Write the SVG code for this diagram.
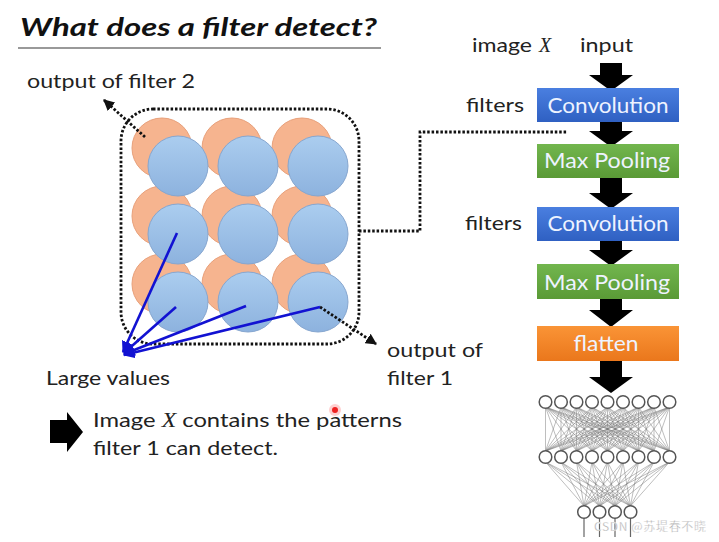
<svg xmlns="http://www.w3.org/2000/svg" width="719" height="542" viewBox="0 0 719 542">
<style>
.t{font-family:Lato,"Open Sans","Liberation Sans",sans-serif;fill:#222;font-size:20px}
.bx{font-family:Lato,"Open Sans","Liberation Sans",sans-serif;fill:#eef3ff;font-size:21px;text-anchor:middle}
.mx{font-family:"Liberation Serif",serif;font-style:italic}
.dot{fill:none;stroke:#111;stroke-width:2.8;stroke-dasharray:2.5 1.9}
.blk{fill:#000}
.oc{fill:#f6b48f;stroke:#e8a07a;stroke-width:1}
.bc{fill:url(#gb);stroke:#86a6cf;stroke-width:1}
.bl{stroke:#1212d2;stroke-width:2.6;fill:none;marker-end:url(#mb)}
.nn{fill:#fff;stroke:#555;stroke-width:1.5}
.ed{fill:none;stroke:#777;stroke-width:0.6;opacity:0.8}
</style>
<defs>
<linearGradient id="gb" x1="0" y1="0" x2="0" y2="1"><stop offset="0" stop-color="#abcdef"/><stop offset="1" stop-color="#8db2de"/></linearGradient>
<linearGradient id="gBlue" x1="0" y1="0" x2="0" y2="1"><stop offset="0" stop-color="#4a7fe0"/><stop offset="1" stop-color="#2f60c2"/></linearGradient>
<linearGradient id="gGreen" x1="0" y1="0" x2="0" y2="1"><stop offset="0" stop-color="#72b64e"/><stop offset="1" stop-color="#5a9a36"/></linearGradient>
<linearGradient id="gOrange" x1="0" y1="0" x2="0" y2="1"><stop offset="0" stop-color="#fa9436"/><stop offset="1" stop-color="#ea771c"/></linearGradient>
<marker id="mk" viewBox="0 0 10 10" refX="9" refY="5" markerWidth="4" markerHeight="4" orient="auto" markerUnits="strokeWidth"><path d="M0 0L10 5L0 10Z" fill="#111"/></marker>
<marker id="mb" viewBox="0 0 10 10" refX="9" refY="5" markerWidth="4.5" markerHeight="4.5" orient="auto" markerUnits="strokeWidth"><path d="M0 0L10 5L0 10Z" fill="#1212d2"/></marker>
</defs>
<rect width="719" height="542" fill="#fff"/>

<g id="title">
<text x="20" y="36" font-family="Lato,'Open Sans','Liberation Sans',sans-serif" font-weight="bold" font-style="italic" font-size="25" fill="#111" textLength="357" lengthAdjust="spacingAndGlyphs">What does a filter detect?</text>
<line x1="18" y1="48" x2="381" y2="48" stroke="#999" stroke-width="2"/>
</g>

<g id="feature-maps">
<circle class="oc" cx="162" cy="148" r="30"/><circle class="oc" cx="232" cy="148" r="30"/><circle class="oc" cx="302" cy="148" r="30"/>
<circle class="oc" cx="162" cy="216" r="30"/><circle class="oc" cx="232" cy="216" r="30"/><circle class="oc" cx="302" cy="216" r="30"/>
<circle class="oc" cx="162" cy="284" r="30"/><circle class="oc" cx="232" cy="284" r="30"/><circle class="oc" cx="302" cy="284" r="30"/>
<circle class="bc" cx="178" cy="166" r="30"/><circle class="bc" cx="248" cy="166" r="30"/><circle class="bc" cx="318" cy="166" r="30"/>
<circle class="bc" cx="178" cy="234" r="30"/><circle class="bc" cx="248" cy="234" r="30"/><circle class="bc" cx="318" cy="234" r="30"/>
<circle class="bc" cx="178" cy="302" r="30"/><circle class="bc" cx="248" cy="302" r="30"/><circle class="bc" cx="318" cy="302" r="30"/>
<rect class="dot" x="121" y="109" width="238" height="235" rx="32"/>
</g>

<g id="labels">
<text class="t" x="27" y="88" textLength="168" lengthAdjust="spacingAndGlyphs">output of filter 2</text>
<text class="t" x="46" y="385" textLength="124" lengthAdjust="spacingAndGlyphs">Large values</text>
<text class="t" x="387" y="357" textLength="96" lengthAdjust="spacingAndGlyphs">output of</text>
<text class="t" x="387" y="385" textLength="66" lengthAdjust="spacingAndGlyphs">filter 1</text>
</g>

<g id="conclusion">
<path class="blk" d="M50 420H67V412L83 432L67 452V443H50Z"/>
<text class="t" x="93" y="427" font-size="22" textLength="309" lengthAdjust="spacingAndGlyphs">Image <tspan class="mx">X</tspan> contains the patterns</text>
<text class="t" x="93" y="455" font-size="22" textLength="185" lengthAdjust="spacingAndGlyphs">filter 1 can detect.</text>
<circle cx="335" cy="410" r="6" fill="#f77" opacity="0.35"/>
<circle cx="335" cy="410" r="3" fill="#e22"/>
</g>

<g id="connectors">
<path class="dot" d="M145 137L104 100" marker-end="url(#mk)"/>
<path class="dot" d="M320 307L376 344" marker-end="url(#mk)"/>
<path class="dot" d="M359 231H420V132H568"/>
<path class="bl" d="M177 233L123 352"/>
<path class="bl" d="M176 307L124 353"/>
<path class="bl" d="M246 306L124 354"/>
<path class="bl" d="M320 307L124 355"/>
<path class="blk" d="M600 63H622V75H633L611 91L589 75H600Z"/>
<path class="blk" d="M600 121H622V131H633L611 147L589 131H600Z"/>
<path class="blk" d="M600 178H622V193H633L611 209L589 193H600Z"/>
<path class="blk" d="M600 241H622V250H633L611 266L589 250H600Z"/>
<path class="blk" d="M600 299H622V310H633L611 327L589 310H600Z"/>
<path class="blk" d="M600 361H622V377H633L611 393L589 377H600Z"/>
</g>

<g id="cnn-labels">
<text class="t" x="472" y="52" textLength="60" lengthAdjust="spacingAndGlyphs">image</text>
<text class="t mx" x="539" y="52" font-size="21">X</text>
<text class="t" x="580" y="52" textLength="53" lengthAdjust="spacingAndGlyphs">input</text>
<text class="t" x="466" y="112" textLength="58" lengthAdjust="spacingAndGlyphs">filters</text>
<text class="t" x="465" y="230" textLength="57" lengthAdjust="spacingAndGlyphs">filters</text>
</g>

<g id="conv1"><rect x="537" y="88" width="142" height="34" fill="url(#gBlue)"/><text class="bx" x="608" y="113" textLength="121" lengthAdjust="spacingAndGlyphs">Convolution</text></g>
<g id="pool1"><rect x="537" y="144" width="142" height="34" fill="url(#gGreen)"/><text class="bx" x="607" y="168" textLength="126" lengthAdjust="spacingAndGlyphs">Max Pooling</text></g>
<g id="conv2"><rect x="537" y="207" width="142" height="34" fill="url(#gBlue)"/><text class="bx" x="608" y="231" textLength="121" lengthAdjust="spacingAndGlyphs">Convolution</text></g>
<g id="pool2"><rect x="537" y="264" width="142" height="35" fill="url(#gGreen)"/><text class="bx" x="607" y="290" textLength="126" lengthAdjust="spacingAndGlyphs">Max Pooling</text></g>
<g id="flatten"><rect x="537" y="326" width="142" height="35" fill="url(#gOrange)"/><text class="bx" x="606" y="351" textLength="65" lengthAdjust="spacingAndGlyphs">flatten</text></g>

<g id="network">
<path class="ed" d="M545.5 451L545.5 407L561 451M545.5 407L576.5 451M545.5 407L592 451M545.5 407L607.5 451M545.5 407L623 451M545.5 407L638.5 451M545.5 407L654 451M545.5 407L669.5 451
M545.5 451L561 407L561 451M561 407L576.5 451M561 407L592 451M561 407L607.5 451M561 407L623 451M561 407L638.5 451M561 407L654 451M561 407L669.5 451
M545.5 451L576.5 407L561 451M576.5 407L576.5 451M576.5 407L592 451M576.5 407L607.5 451M576.5 407L623 451M576.5 407L638.5 451M576.5 407L654 451M576.5 407L669.5 451
M545.5 451L592 407L561 451M592 407L576.5 451M592 407L592 451M592 407L607.5 451M592 407L623 451M592 407L638.5 451M592 407L654 451M592 407L669.5 451
M545.5 451L607.5 407L561 451M607.5 407L576.5 451M607.5 407L592 451M607.5 407L607.5 451M607.5 407L623 451M607.5 407L638.5 451M607.5 407L654 451M607.5 407L669.5 451
M545.5 451L623 407L561 451M623 407L576.5 451M623 407L592 451M623 407L607.5 451M623 407L623 451M623 407L638.5 451M623 407L654 451M623 407L669.5 451
M545.5 451L638.5 407L561 451M638.5 407L576.5 451M638.5 407L592 451M638.5 407L607.5 451M638.5 407L623 451M638.5 407L638.5 451M638.5 407L654 451M638.5 407L669.5 451
M545.5 451L654 407L561 451M654 407L576.5 451M654 407L592 451M654 407L607.5 451M654 407L623 451M654 407L638.5 451M654 407L654 451M654 407L669.5 451
M545.5 451L669.5 407L561 451M669.5 407L576.5 451M669.5 407L592 451M669.5 407L607.5 451M669.5 407L623 451M669.5 407L638.5 451M669.5 407L654 451M669.5 407L669.5 451"/>
<path class="ed" d="M545.5 462L584 506L561 462M584 506L576.5 462M584 506L592 462M584 506L607.5 462M584 506L623 462M584 506L638.5 462M584 506L654 462M584 506L669.5 462
M545.5 462L599.5 506L561 462M599.5 506L576.5 462M599.5 506L592 462M599.5 506L607.5 462M599.5 506L623 462M599.5 506L638.5 462M599.5 506L654 462M599.5 506L669.5 462
M545.5 462L615 506L561 462M615 506L576.5 462M615 506L592 462M615 506L607.5 462M615 506L623 462M615 506L638.5 462M615 506L654 462M615 506L669.5 462
M545.5 462L630.5 506L561 462M630.5 506L576.5 462M630.5 506L592 462M630.5 506L607.5 462M630.5 506L623 462M630.5 506L638.5 462M630.5 506L654 462M630.5 506L669.5 462"/>
<path d="M584 517V537M599.5 517V537M615 517V537M630.5 517V537" stroke="#666" stroke-width="1.2"/>
<circle class="nn" cx="545.5" cy="402" r="6.3"/><circle class="nn" cx="561" cy="402" r="6.3"/><circle class="nn" cx="576.5" cy="402" r="6.3"/><circle class="nn" cx="592" cy="402" r="6.3"/><circle class="nn" cx="607.5" cy="402" r="6.3"/><circle class="nn" cx="623" cy="402" r="6.3"/><circle class="nn" cx="638.5" cy="402" r="6.3"/><circle class="nn" cx="654" cy="402" r="6.3"/><circle class="nn" cx="669.5" cy="402" r="6.3"/>
<circle class="nn" cx="545.5" cy="457" r="6.3"/><circle class="nn" cx="561" cy="457" r="6.3"/><circle class="nn" cx="576.5" cy="457" r="6.3"/><circle class="nn" cx="592" cy="457" r="6.3"/><circle class="nn" cx="607.5" cy="457" r="6.3"/><circle class="nn" cx="623" cy="457" r="6.3"/><circle class="nn" cx="638.5" cy="457" r="6.3"/><circle class="nn" cx="654" cy="457" r="6.3"/><circle class="nn" cx="669.5" cy="457" r="6.3"/>
<circle class="nn" cx="584" cy="512" r="6.3"/><circle class="nn" cx="599.5" cy="512" r="6.3"/><circle class="nn" cx="615" cy="512" r="6.3"/><circle class="nn" cx="630.5" cy="512" r="6.3"/>
</g>

<g id="watermark">
<text x="594" y="531" font-family="'Noto Sans CJK SC','Noto Sans',sans-serif" font-size="12" fill="#aaa" stroke="#fff" stroke-width="0.3" textLength="112">CSDN @苏堤春不晓</text>
</g>
</svg>
